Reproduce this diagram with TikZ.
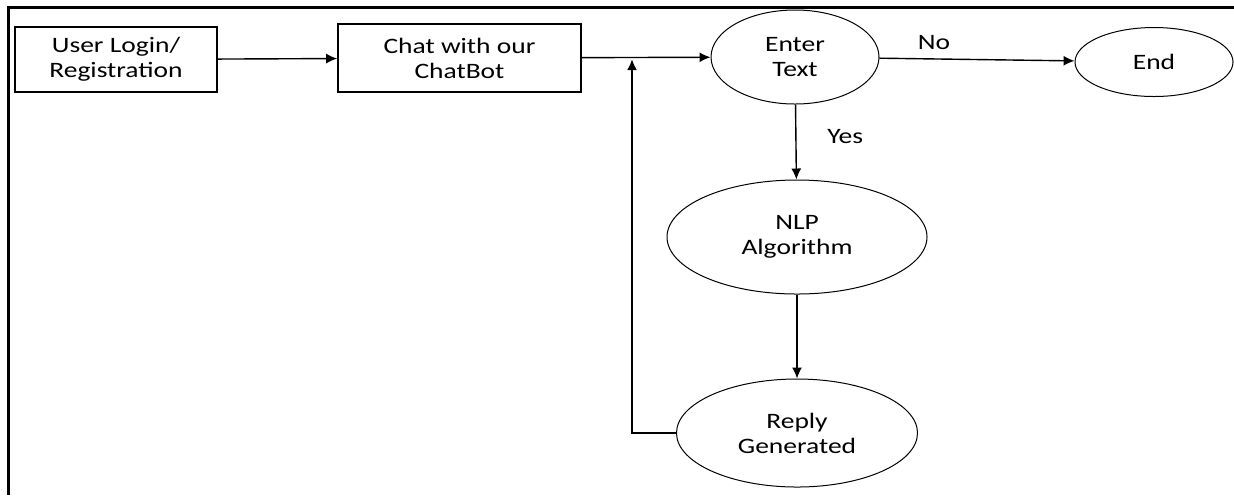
\documentclass[tikz,border=0pt]{standalone}
\usepackage{fontspec}
\setmainfont{Carlito}[FakeStretch=1.25]
\usetikzlibrary{shapes.geometric,arrows.meta}

\begin{document}
\begin{tikzpicture}[x=0.5pt,y=-0.5pt,font=\fontsize{11}{12.5}\selectfont]

        \useasboundingbox (0,0) rectangle (1234,495);
        \draw[line width=1.5pt] (1234,7) -- (8,7) -- (8,495);

        \begin{scope}[every node/.style={rectangle,draw,line width=0.8pt,align=center,inner sep=0pt}]
          \node[minimum width=101pt,minimum height=32.5pt] (login) at (116,59.5) {User Login/\\Registration};
          \node[minimum width=121.5pt,minimum height=34pt] (chat) at (459.5,58) {Chat with our\\ChatBot};
        \end{scope}

        \begin{scope}[every node/.style={ellipse,draw,line width=0.5pt,align=center,inner sep=0pt}]
          \node[minimum width=84pt,minimum height=47pt] (enter) at (795,57) {Enter\\Text};
          \node[minimum width=79pt,minimum height=34.5pt] (stop) at (1154,62) {End};
          \node[minimum width=130pt,minimum height=57pt] (nlp) at (797,237) {NLP\\Algorithm};
          \node[minimum width=120.5pt,minimum height=54pt] (reply) at (797,433) {Reply\\Generated};
        \end{scope}

        \coordinate (join) at (632,59);

        \begin{scope}[every edge/.style={draw,line width=0.7pt,-{Latex[length=5.5pt,width=5pt]}}]
          \path (login) edge (chat);
          \path (chat) edge (enter);
          \path (enter) edge node[pos=0.28,above=1pt] {No} (stop);
          \path (enter) edge node[pos=0.43,right=12pt] {Yes} (nlp);
          \path (nlp) edge (reply);
        \end{scope}

        \draw[line width=1.1pt,-{Latex[length=5.5pt,width=5pt]}] (reply.west) -| (join);

      \end{tikzpicture}
\end{document}
